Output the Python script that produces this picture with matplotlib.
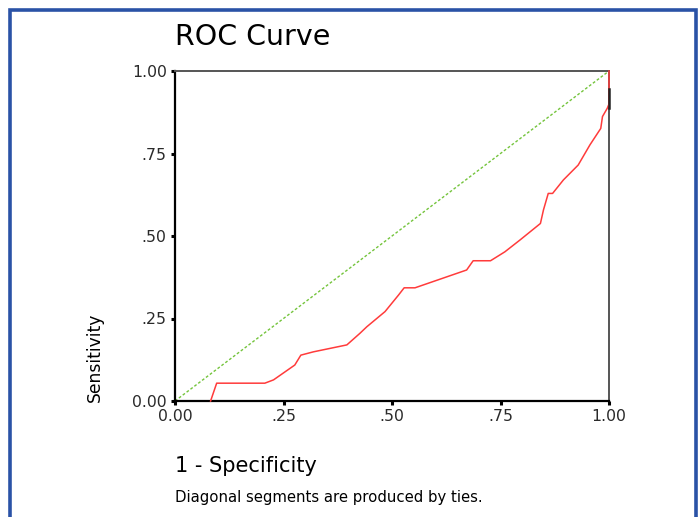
import matplotlib
matplotlib.use("Agg")
import matplotlib.pyplot as plt
from matplotlib.patches import Rectangle

plt.rcParams['font.family'] = ['DejaVu Sans']

# ROC curve points (1 - specificity, sensitivity)
fpr = [0.082, 0.096, 0.207, 0.227, 0.276, 0.290, 0.319, 0.396, 0.426, 0.442,
       0.484, 0.515, 0.528, 0.553, 0.672, 0.687, 0.727, 0.760, 0.795, 0.842,
       0.849, 0.860, 0.870, 0.895, 0.929, 0.956, 0.981, 0.985, 0.996, 1.000, 1.000]
tpr = [0.000, 0.054, 0.054, 0.064, 0.109, 0.139, 0.149, 0.170, 0.205, 0.225,
       0.271, 0.321, 0.343, 0.343, 0.397, 0.425, 0.425, 0.452, 0.488, 0.538,
       0.579, 0.629, 0.629, 0.670, 0.715, 0.776, 0.826, 0.862, 0.887, 0.900, 1.000]
ref_x = [0.0, 1.0]
ref_y = [0.0, 1.0]
ticks = [0.0, 0.25, 0.5, 0.75, 1.0]
tick_labels = ['0.00', '.25', '.50', '.75', '1.00']

W, H = 699, 517
fig = plt.figure(figsize=(W / 100, H / 100), dpi=100)
fig.patch.set_facecolor('white')

# blue frame
fig.patches.append(Rectangle((9.5 / W, -0.05), (696 - 9.5) / W, 1 - 9.5 / H + 0.05,
                             transform=fig.transFigure, fill=False,
                             edgecolor='#2a52a6', linewidth=2.6))

ax = fig.add_axes([175 / W, 1 - 401 / H, (609 - 175) / W, (401 - 71) / H])
ax.plot(ref_x, ref_y, color='#74c43c', linewidth=1.0, linestyle=(0, (2, 1.5)))
ax.plot(fpr, tpr, color='#ff3b3b', linewidth=1.1, clip_on=False, zorder=3)
# dark overlap segment on right edge
ax.plot([1.0, 1.0], [0.887, 0.945], color='#222222', linewidth=1.8,
        clip_on=False, zorder=4)

ax.set_xlim(0, 1)
ax.set_ylim(0, 1)
ax.set_xticks(ticks)
ax.set_xticklabels(tick_labels)
ax.set_yticks(ticks)
ax.set_yticklabels(tick_labels)
ax.tick_params(direction='out', length=3, width=2.2, labelsize=11.3, colors='black',
               pad=3)
ax.tick_params(axis='both', labelcolor='#2a2a2a')
for s in ['left', 'bottom']:
    ax.spines[s].set_linewidth(1.6)
    ax.spines[s].set_color('black')
for s in ['top', 'right']:
    ax.spines[s].set_linewidth(1.4)
    ax.spines[s].set_color('#555555')

fig.text(175 / W, 1 - 45 / H, 'ROC Curve', fontsize=20.5, ha='left', va='baseline')
fig.text(95 / W, 1 - 357 / H, 'Sensitivity', fontsize=12.3, rotation=90,
         ha='center', va='center')
fig.text(175 / W, 1 - 472 / H, '1 - Specificity', fontsize=15, ha='left',
         va='baseline')
fig.text(175 / W, 1 - 502 / H, 'Diagonal segments are produced by ties.',
         fontsize=10.7, ha='left', va='baseline')

fig.savefig('out.png', dpi=100, facecolor='white')
